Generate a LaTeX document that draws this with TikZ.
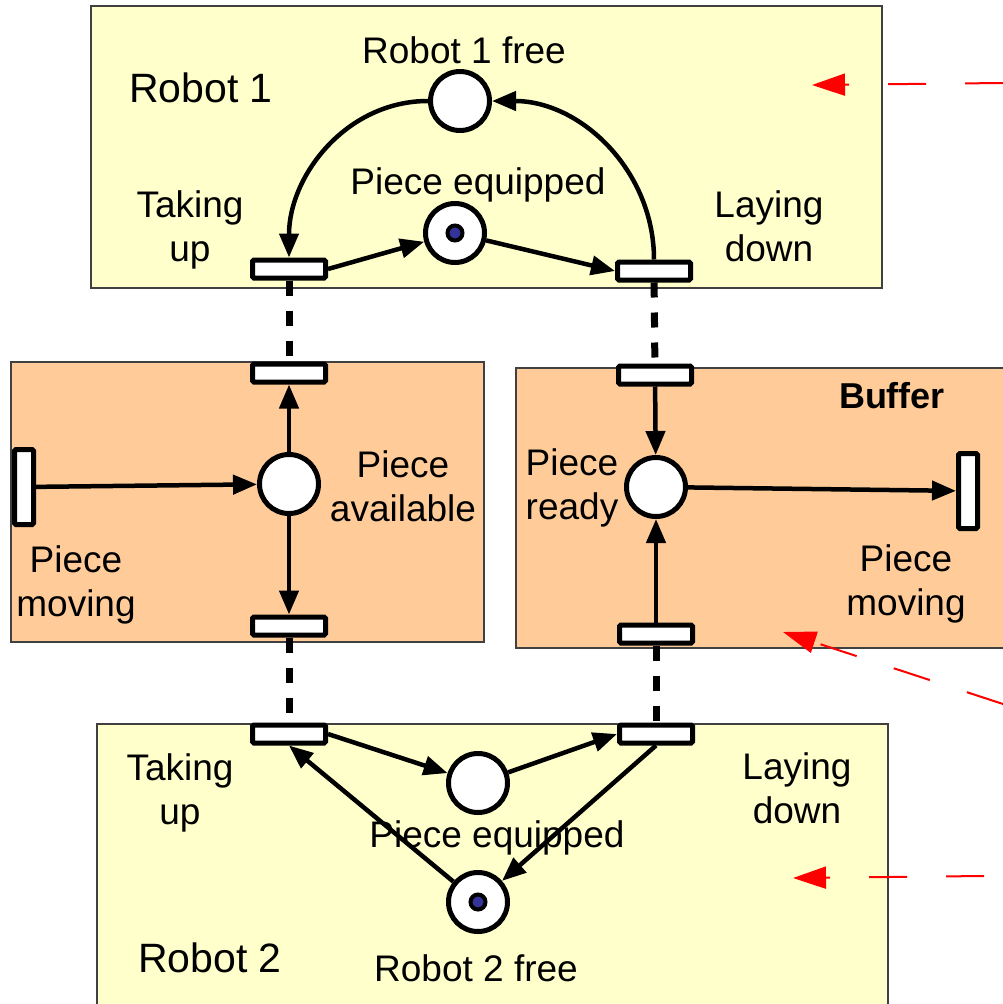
\documentclass[tikz,border=0pt]{standalone}
\usepackage{fontspec}
\setmainfont{Liberation Sans}
\usetikzlibrary{arrows.meta, positioning}
\definecolor{robotyellow}{RGB}{255, 255, 204}
\definecolor{bufferorange}{RGB}{255, 204, 153}
\definecolor{tokenblue}{RGB}{51, 51, 153}

\begin{document}
\begin{tikzpicture}[x=1pt, y=-1pt,
  zone/.style={draw=black!75, line width=1.5pt},
  place/.style={circle, draw, line width=5pt, fill=white, minimum size=59pt, inner sep=0pt},
  trans/.style={rectangle, rounded corners=1.5pt, draw, line width=5pt, fill=white, minimum width=73pt, minimum height=18pt, inner sep=0pt},
  vtrans/.style={trans, minimum width=19pt, minimum height=75pt},
  token/.style={circle, draw, line width=4pt, fill=tokenblue, minimum size=15pt, inner sep=0pt},
  arc/.style={line width=4.5pt, -{Triangle[length=24pt, width=19pt]}},
  sync/.style={line width=7pt, dash pattern=on 15pt off 15pt},
  hint/.style={red, line width=2pt, dash pattern=on 38pt off 39pt, -{Triangle[length=33pt, width=22pt]}},
  lbl/.style={font=\fontsize{37}{44}\selectfont, align=center, inner sep=0pt},
  big/.style={font=\fontsize{41}{49}\selectfont, inner sep=0pt}]
  \useasboundingbox (0,0) rectangle (1003,1004);
  \clip (0,0) rectangle (1003,1004);

  \draw[zone, fill=robotyellow] (91,6) rectangle (882,288);
  \draw[zone, fill=bufferorange] (11,362) rectangle (484,642);
  \draw[zone, fill=bufferorange] (516,368) rectangle (1020,648);
  \draw[zone, fill=robotyellow] (97,724) rectangle (888,1020);

  % robot 1
  \node[place] (r1free) at (460,101) {};
  \node[place] (equip1) at (455,233) {};
  \node[token] (tok1) at (equip1) {};
  \node[trans] (takeup1) at (289,269) {};
  \node[trans] (laydown1) at (654,271) {};

  % piece available
  \node[trans] (avtop) at (289,373) {};
  \node[place] (avail) at (289,484) {};
  \node[trans] (avbot) at (289,626) {};
  \node[vtrans] (movein) at (24,487) {};

  % buffer
  \node[trans] (rdtop) at (655,375) {};
  \node[place] (ready) at (656,487) {};
  \node[trans] (rdbot) at (656,634) {};
  \node[vtrans] (moveout) at (968,491) {};

  % robot 2
  \node[trans] (takeup2) at (289,734) {};
  \node[trans] (laydown2) at (656,734) {};
  \node[place] (equip2) at (478,783) {};
  \node[place] (r2free) at (478,902) {};
  \node[token] (tok2) at (r2free) {};

  \draw[arc] (r1free.west) to[out=180, in=90] (takeup1.north);
  \draw[arc] (takeup1.east) -- (equip1);
  \draw[arc] (equip1) -- (laydown1.west);
  \draw[arc] (laydown1.north) to[out=90, in=0] (r1free.east);

  \draw[arc] (avail) -- (avtop);
  \draw[arc] (avail) -- (avbot);
  \draw[arc] (movein) -- (avail);

  \draw[arc] (rdtop) -- (ready);
  \draw[arc] (rdbot) -- (ready);
  \draw[arc] (ready) -- (moveout);

  \draw[arc] (takeup2.east) -- (equip2);
  \draw[arc] (equip2) -- (laydown2.west);
  \draw[arc] (laydown2.south) -- (r2free);
  \draw[arc] (r2free) -- (takeup2.south);

  \draw[sync] (takeup1) -- (avtop);
  \draw[sync] (laydown1) -- (rdtop);
  \draw[sync] (avbot) -- (takeup2);
  \draw[sync] (rdbot) -- (laydown2);

  \coordinate (hint1) at (1003,83);
  \coordinate (hint1end) at (812,85);
  \coordinate (hint2) at (1003,704);
  \coordinate (hint2end) at (783,632);
  \coordinate (hint3) at (984,876);
  \coordinate (hint3end) at (793,878);
  \draw[hint] (hint1) -- (hint1end);
  \draw[hint] (hint2) -- (hint2end);
  \draw[hint] (hint3) -- (hint3end);

  \node[big] (r1name) at (201,88) {Robot 1};
  \node[lbl] (r1freelbl) at (464,50) {Robot 1 free};
  \node[lbl] (equip1lbl) at (478,185) {Piece equipped};
  \node[lbl] (takeup1lbl) at (190,230) {Taking\\up};
  \node[lbl] (laydown1lbl) at (769,226) {Laying\\down};
  \node[lbl, font=\bfseries\fontsize{36}{43}\selectfont] (bufferlbl) at (892,396) {Buffer};
  \node[lbl] (availlbl) at (403,486) {Piece\\available};
  \node[lbl] (readylbl) at (572,488) {Piece\\ready};
  \node[lbl] (moveinlbl) at (76,585) {Piece\\moving};
  \node[lbl] (moveoutlbl) at (906,584) {Piece\\moving};
  \node[lbl] (takeup2lbl) at (180,793) {Taking\\up};
  \node[lbl] (laydown2lbl) at (797,788) {Laying\\down};
  \node[lbl] (equip2lbl) at (497,838) {Piece equipped};
  \node[big] (r2name) at (210,958) {Robot 2};
  \node[lbl] (r2freelbl) at (476,968) {Robot 2 free};
\end{tikzpicture}
\end{document}
